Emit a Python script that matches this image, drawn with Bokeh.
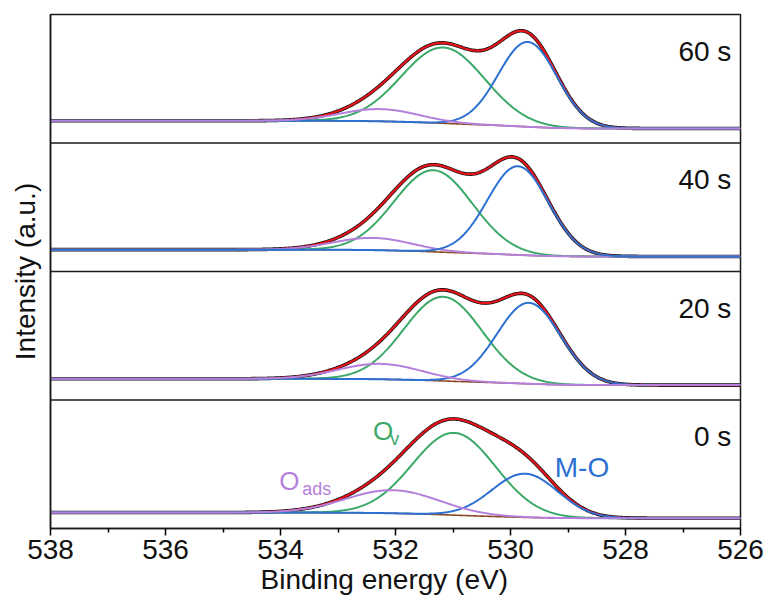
import numpy as np
from bokeh.plotting import figure
from bokeh.models import Range1d, Span, Label, FixedTicker, Title
from bokeh.embed import file_html
from bokeh.resources import INLINE

# ---- data (fit parameters per spectrum, bottom to top) ----
spectra = ["0 s", "20 s", "40 s", "60 s"]
mo_center = [529.75, 529.68, 529.87, 529.70]
mo_height = [0.34, 0.63, 0.69, 0.66]
mo_fwhm = [1.35, 1.30, 1.25, 1.20]
ov_center = [530.98, 531.17, 531.34, 531.17]
ov_height = [0.64, 0.655, 0.635, 0.59]
ov_fwhm = [1.70, 1.60, 1.60, 1.70]
oads_center = [532.05, 532.27, 532.40, 532.27]
oads_height = [0.18, 0.12, 0.095, 0.095]
oads_fwhm = [1.90, 1.70, 1.60, 1.60]
bg_high = [0.124, 0.165, 0.170, 0.173]   # background level at 538 eV
bg_low = [0.080, 0.116, 0.117, 0.113]    # background level at 526 eV
x_ticks = [538, 536, 534, 532, 530, 528, 526]
x_minor = [537, 535, 533, 531, 529, 527]

FONT = "Liberation Sans"
C_RED = "#e8141b"
C_GREEN = "#3aa868"
C_BLUE = "#2c70d2"
C_PURPLE = "#b57fdc"
C_BASE = "#8a4a25"

be = np.linspace(526, 538, 721)


def gauss(c, h, w):
    return h * np.exp(-4 * np.log(2) * (be - c) ** 2 / w ** 2)


p = figure(width=767, height=606, x_range=Range1d(538, 526), y_range=Range1d(0, 4),
           output_backend="svg", toolbar_location=None,
           min_border_left=50, min_border_right=27, min_border_top=14, min_border_bottom=78)
p.xgrid.visible = False
p.ygrid.visible = False
p.background_fill_color = "white"
p.border_fill_color = "white"
p.outline_line_color = "#1a1a1a"
p.outline_line_width = 1.5

for k in range(4):
    g_ov = gauss(ov_center[k], ov_height[k], ov_fwhm[k])
    g_mo = gauss(mo_center[k], mo_height[k], mo_fwhm[k])
    g_ad = gauss(oads_center[k], oads_height[k], oads_fwhm[k])
    tot = g_ov + g_mo + g_ad
    cum = np.cumsum(tot)
    bg = bg_low[k] + (bg_high[k] - bg_low[k]) * cum / cum[-1]
    off = k
    env = bg + tot
    p.line(be, env + off, line_color="#111111", line_width=3.6)
    p.line(be, env + off, line_color=C_RED, line_width=2.2)
    p.line(be, bg + off, line_color=C_BASE, line_width=1.6)
    p.line(be, bg + g_ov + off, line_color=C_GREEN, line_width=2)
    if spectra[k] == "40 s":
        p.line(be, bg + g_ad + off, line_color=C_PURPLE, line_width=2)
        p.line(be, bg + g_mo + off, line_color=C_BLUE, line_width=2)
    else:
        p.line(be, bg + g_mo + off, line_color=C_BLUE, line_width=2)
        p.line(be, bg + g_ad + off, line_color=C_PURPLE, line_width=2)
    p.add_layout(Label(x=526.16, y=off + 0.713, text=spectra[k], text_align="right",
                       text_baseline="alphabetic", text_font=FONT, text_font_size="28px",
                       text_color="#111111"))
    if k > 0:
        p.add_layout(Span(location=k, dimension="width", line_color="#1a1a1a", line_width=1.5))

# component labels in the bottom panel
p.add_layout(Label(x=532.39, y=0.759, text="O", text_font=FONT, text_font_size="26px",
                   text_color=C_GREEN, text_baseline="alphabetic"))
p.add_layout(Label(x=532.09, y=0.695, text="v", text_font=FONT, text_font_size="18px",
                   text_color=C_GREEN, text_baseline="alphabetic"))
p.add_layout(Label(x=534.02, y=0.371, text="O", text_font=FONT, text_font_size="26px",
                   text_color=C_PURPLE, text_baseline="alphabetic"))
p.add_layout(Label(x=533.62, y=0.308, text="ads", text_font=FONT, text_font_size="18px",
                   text_color=C_PURPLE, text_baseline="alphabetic"))
p.add_layout(Label(x=529.23, y=0.474, text="M-O", text_font=FONT, text_font_size="28px",
                   text_color=C_BLUE, text_baseline="alphabetic"))

# x axis
xa = p.xaxis[0]
xa.ticker = FixedTicker(ticks=x_ticks, minor_ticks=x_minor)
xa.major_label_text_font = FONT
xa.major_label_text_font_size = "28px"
xa.major_label_text_color = "#111111"
xa.axis_line_color = "#1a1a1a"
xa.axis_line_width = 1.5
xa.major_tick_line_width = 1.5
xa.minor_tick_line_width = 1.5
xa.major_tick_in = 0
xa.major_tick_out = 7
xa.minor_tick_in = 0
xa.minor_tick_out = 4
xa.major_label_standoff = 4

p.add_layout(Title(text="Binding energy (eV)", align="left", offset=210, standoff=0,
                   text_font=FONT, text_font_size="28px", text_font_style="normal",
                   text_color="#111111"), "below")

# y axis
ya = p.yaxis[0]
ya.ticker = FixedTicker(ticks=[])
ya.axis_label = "Intensity (a.u.)"
ya.axis_label_text_font = FONT
ya.axis_label_text_font_size = "28px"
ya.axis_label_text_font_style = "normal"
ya.axis_label_text_color = "#111111"
ya.axis_line_color = "#1a1a1a"
ya.axis_line_width = 1.5
ya.major_tick_line_color = None
ya.minor_tick_line_color = None
ya.major_label_standoff = 0
ya.axis_label_standoff = 10

open("out.html", "w").write(file_html(p, INLINE))
